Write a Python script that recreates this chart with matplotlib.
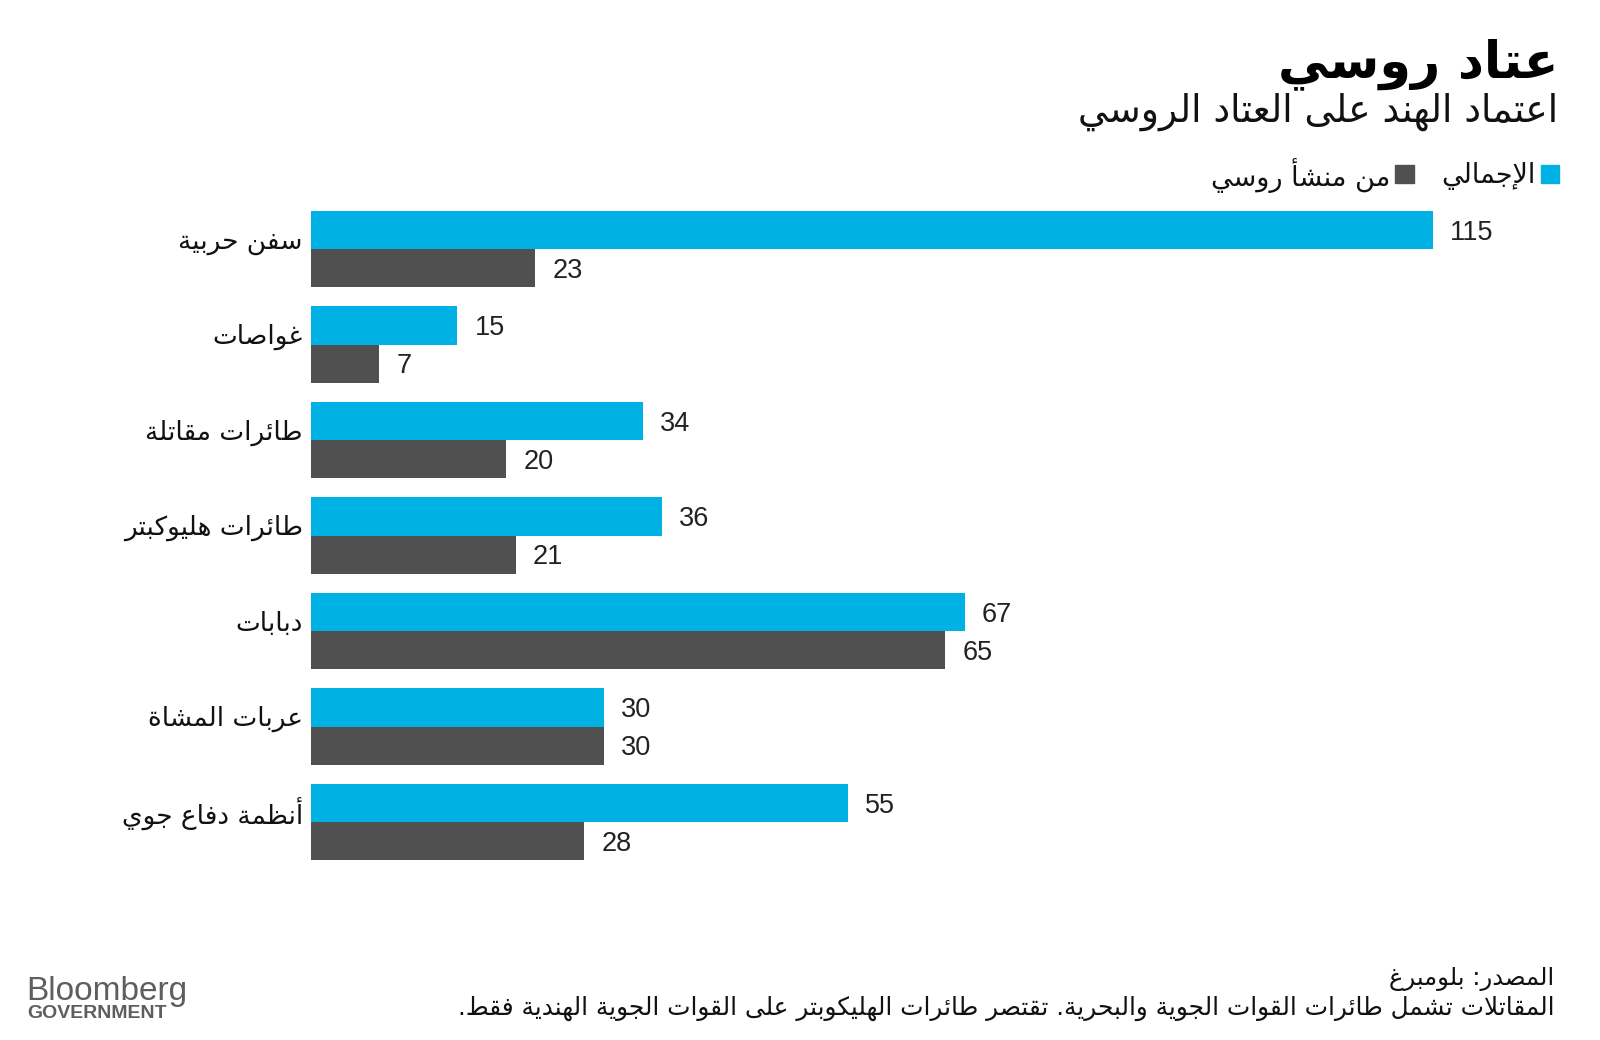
import numpy as np
import matplotlib
matplotlib.use('Agg')
import matplotlib.pyplot as plt

# --- data ---
categories = ['سفن حربية', 'غواصات', 'طائرات مقاتلة', 'طائرات هليوكبتر',
              'دبابات', 'عربات المشاة', 'أنظمة دفاع جوي']
total = [115, 15, 34, 36, 67, 30, 55]
russian = [23, 7, 20, 21, 65, 30, 28]

title = 'عتاد روسي'
subtitle = 'اعتماد الهند على العتاد الروسي'
legend_total = 'الإجمالي'
legend_russian = 'من منشأ روسي'
source = 'المصدر: بلومبرغ'
note = 'المقاتلات تشمل طائرات القوات الجوية والبحرية. تقتصر طائرات الهليكوبتر على القوات الجوية الهندية فقط.'

BLUE = '#00B2E3'
GREY = '#505050'

# matplotlib has no arabic shaping, so map letters to presentation forms
FORMS = {}
_letters = 'آأؤإئابةتثجحخدذرزسشصضطظعغفقكلمنهوىي'
_two = set('آأؤإاةدذرزوى')
code = 0xFE81
for ch in _letters:
    n = 2 if ch in _two else 4
    FORMS[ch] = [chr(code + k) for k in range(n)]
    code += n
FORMS['ء'] = ['\uFE80']
LAM_ALEF = {'آ': 0xFEF5, 'أ': 0xFEF7, 'إ': 0xFEF9, 'ا': 0xFEFB}


def dual(c):
    return c in FORMS and len(FORMS[c]) == 4


def joins(c):
    return c in FORMS and c != 'ء'


def ar(text):
    out = []
    i = 0
    while i < len(text):
        c = text[i]
        prev = text[i - 1] if i > 0 else ''
        nxt = text[i + 1] if i + 1 < len(text) else ''
        if c not in FORMS:
            out.append(c)
            i += 1
            continue
        cp = dual(prev)
        if c == 'ل' and nxt in LAM_ALEF:
            out.append(chr(LAM_ALEF[nxt] + (1 if cp else 0)))
            i += 2
            continue
        cn = dual(c) and joins(nxt)
        if cp and cn:
            idx = 3
        elif cp:
            idx = 1
        elif cn:
            idx = 2
        else:
            idx = 0
        out.append(FORMS[c][idx])
        i += 1
    return ''.join(out)[::-1]


plt.rcParams['font.family'] = ['DejaVu Sans']
fig = plt.figure(figsize=(16, 10.4), dpi=100)
ax = fig.add_axes([311 / 1600, 1 - 869.75 / 1040, 1249 / 1600, 668.5 / 1040])

y = np.arange(len(categories))
h = 0.398
ax.barh(y - h / 2, total, height=h, color=BLUE)
ax.barh(y + h / 2, russian, height=h, color=GREY)
ax.set_xlim(0, 128)
ax.set_ylim(len(categories) - 0.5, -0.5)

for i in range(len(categories)):
    ax.text(total[i] + 1.75, y[i] - h / 2 + 0.03, str(total[i]), va='center', ha='left',
            fontsize=19.5, color='#222222', family=['Liberation Sans'])
    ax.text(russian[i] + 1.75, y[i] + h / 2 + 0.03, str(russian[i]), va='center', ha='left',
            fontsize=19.5, color='#222222', family=['Liberation Sans'])
    ax.text(-0.85, y[i] - 0.075, ar(categories[i]), va='center', ha='right',
            fontsize=19, color='#111111')

ax.set_yticks([])
ax.set_xticks([])
for s in ax.spines.values():
    s.set_visible(False)

# header
fig.text(1558 / 1600, 1 - 77 / 1040, ar(title), ha='right', va='baseline',
         fontsize=36.5, fontweight='bold', color='#000000')
fig.text(1558 / 1600, 1 - 122 / 1040, ar(subtitle), ha='right', va='baseline',
         fontsize=27, color='#111111')

# legend
fig.patches.append(plt.Rectangle((1541 / 1600, 1 - 183 / 1040), 18 / 1600, 18 / 1040,
                                 transform=fig.transFigure, color=BLUE))
fig.text(1536 / 1600, 1 - 176 / 1040, ar(legend_total), ha='right', va='center',
         fontsize=19.5, color='#111111')
fig.patches.append(plt.Rectangle((1395 / 1600, 1 - 183 / 1040), 19 / 1600, 18 / 1040,
                                 transform=fig.transFigure, color=GREY))
fig.text(1390 / 1600, 1 - 176 / 1040, ar(legend_russian), ha='right', va='center',
         fontsize=19.5, color='#111111')

# footer
fig.text(1554 / 1600, 1 - 985 / 1040, ar(source), ha='right', va='baseline',
         fontsize=17.5, color='#111111')
fig.text(1554 / 1600, 1 - 1015 / 1040, ar(note), ha='right', va='baseline',
         fontsize=17.8, color='#111111')

fig.text(26 / 1600, 1 - 1000 / 1040, 'Bloomberg', ha='left', va='baseline',
         fontsize=24, color='#5e5e5e', family=['Liberation Sans'])
fig.text(27 / 1600, 1 - 1018 / 1040, 'GOVERNMENT', ha='left', va='baseline',
         fontsize=14, fontweight='bold', color='#5e5e5e', family=['Liberation Sans'])

fig.savefig('out.png', dpi=100, facecolor='white')
